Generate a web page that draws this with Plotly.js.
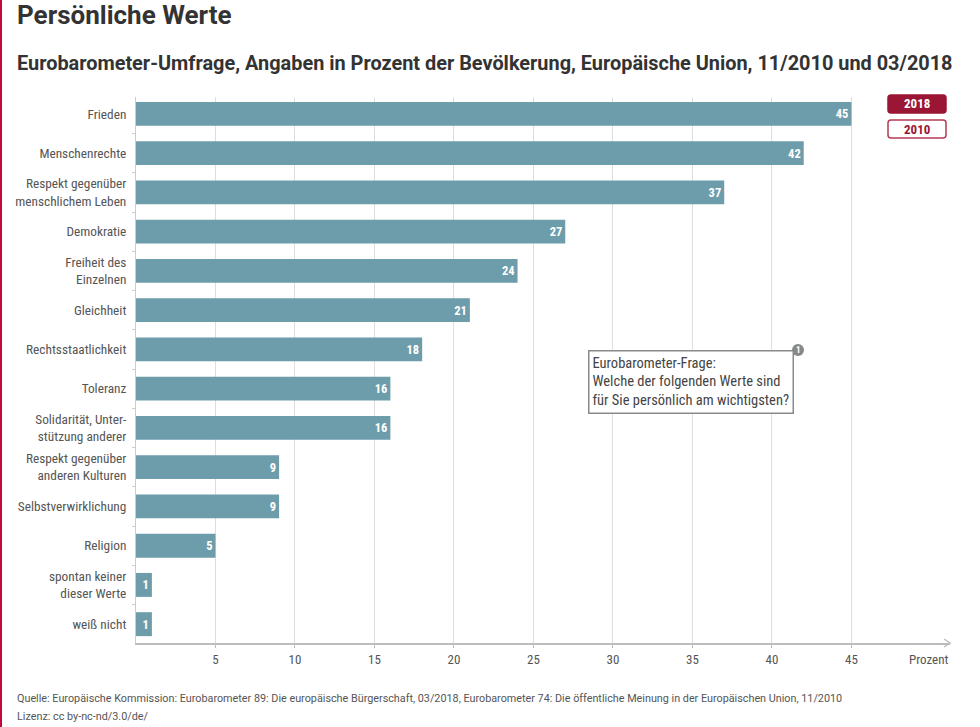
<!DOCTYPE html>
<html><head><meta charset="utf-8">
<script src="https://cdn.plot.ly/plotly-3.0.1.min.js"></script>
<style>body{margin:0;background:#fff}#c{width:980px;height:727px}#edge{position:absolute;left:0;top:0;width:2px;height:727px;background:#c4093f}</style>
</head><body><div id="c"></div><div id="edge"></div>
<script>
var categories = ["Frieden","Menschenrechte","Respekt gegenüber<br>menschlichem Leben","Demokratie","Freiheit des<br>Einzelnen","Gleichheit","Rechtsstaatlichkeit","Toleranz","Solidarität, Unter-<br>stützung anderer","Respekt gegenüber<br>anderen Kulturen","Selbstverwirklichung","Religion","spontan keiner<br>dieser Werte","weiß nicht"];
var values2018 = [45,42,37,27,24,21,18,16,16,9,9,5,1,1];
var xTicks = [5,10,15,20,25,30,35,40,45];

var F = "Roboto Condensed, Liberation Sans Narrow, Roboto, sans-serif";
function px(x){return (x-136)/814;}
function py(y){return (643-y)/546;}
function rrect(x0,y0,x1,y1,r){
  // pixel coords -> paper path with rounded corners
  function P(x,y){return px(x)+' '+py(y);}
  return 'M '+P(x0+r,y0)+' L '+P(x1-r,y0)+' Q '+P(x1,y0)+' '+P(x1,y0+r)+' L '+P(x1,y1-r)+' Q '+P(x1,y1)+' '+P(x1-r,y1)+
         ' L '+P(x0+r,y1)+' Q '+P(x0,y1)+' '+P(x0,y1-r)+' L '+P(x0,y0+r)+' Q '+P(x0,y0)+' '+P(x0+r,y0)+' Z';
}
var trace = {
  type:'bar', orientation:'h', y:categories, x:values2018,
  marker:{color:'#6d9dab'},
  text:values2018.map(String), textposition:'inside', insidetextanchor:'end',
  textfont:{family:F, size:12.5, color:'#ffffff', weight:'bold'},
  hoverinfo:'x+y', cliponaxis:false
};
var layout = {
  width:980, height:727,
  margin:{l:136, r:30, t:97, b:84},
  paper_bgcolor:'#fff', plot_bgcolor:'#fff',
  bargap:0.39, showlegend:false,
  font:{family:F, color:'#555', size:12},
  xaxis:{range:[0,51.2], tickvals:xTicks, ticktext:xTicks.map(String), showgrid:true, gridcolor:'#dedede', gridwidth:1,
         zeroline:false, showline:true, linecolor:'#bdbdbd', linewidth:2, ticks:'outside', ticklen:3, tickcolor:'#bdbdbd',
         tickfont:{family:F, size:13, color:'#555'}, fixedrange:true},
  yaxis:{categoryorder:'array', categoryarray:categories, range:[13.48,-0.43], showline:true, linecolor:'#cccccc', linewidth:1,
         ticks:'outside', ticklen:3, tickcolor:'#cccccc', tickson:'boundaries', showgrid:false, zeroline:false,
         tickfont:{family:F, size:13.3, color:'#555'}, ticklabelstandoff:6, fixedrange:true},
  shapes:[
    {type:'path', xref:'paper', yref:'paper', path:rrect(888,95,946,113,3), fillcolor:'#9b1535', line:{color:'#9b1535', width:1.5}},
    {type:'path', xref:'paper', yref:'paper', path:rrect(888,120,946,138,3), fillcolor:'#fff', line:{color:'#b23a55', width:1.5}},
    {type:'path', xref:'paper', yref:'paper', path:'M '+px(944)+' '+py(639)+' L '+px(950)+' '+py(643)+' L '+px(944)+' '+py(647), line:{color:'#bdbdbd', width:1.5}},
    {type:'circle', xref:'paper', yref:'paper', x0:px(792), x1:px(804), y0:py(356), y1:py(344), fillcolor:'#888', line:{width:0}}
  ],
  annotations:[
    {xref:'paper', yref:'paper', x:px(917), y:py(104), xanchor:'center', yanchor:'middle', text:'<b>2018</b>', showarrow:false, font:{family:F, size:13, color:'#fff'}},
    {xref:'paper', yref:'paper', x:px(917), y:py(129), xanchor:'center', yanchor:'middle', text:'<b>2010</b>', showarrow:false, font:{family:F, size:13, color:'#9b1535'}},
    {xref:'paper', yref:'paper', x:px(588), y:py(350), xanchor:'left', yanchor:'top', align:'left', showarrow:false,
     text:'Eurobarometer-Frage:<br>Welche der folgenden Werte sind<br>für Sie persönlich am wichtigsten?',
     font:{family:F, size:14.5, color:'#444'}, bordercolor:'#8a8a8a', borderwidth:1.5, borderpad:3, bgcolor:'#fff'},
    {xref:'paper', yref:'paper', x:px(798), y:py(350), xanchor:'center', yanchor:'middle', text:'<b>1</b>', showarrow:false, font:{family:F, size:9, color:'#fff'}},
    {xref:'paper', yref:'paper', x:px(950), y:py(659), xanchor:'right', yanchor:'middle', text:'Prozent', showarrow:false, font:{family:F, size:13, color:'#555'}},
    {xref:'paper', yref:'paper', x:px(15), y:py(15), xanchor:'left', yanchor:'middle', text:'<b>Persönliche Werte</b>', showarrow:false, font:{family:'Roboto, sans-serif', size:26, color:'#333'}},
    {xref:'paper', yref:'paper', x:px(15), y:py(64), xanchor:'left', yanchor:'middle', text:'<b>Eurobarometer-Umfrage, Angaben in Prozent der Bevölkerung, Europäische Union, 11/2010 und 03/2018</b>', showarrow:false, font:{family:'Roboto, sans-serif', size:19.9, color:'#333'}},
    {xref:'paper', yref:'paper', x:px(15), y:py(698), xanchor:'left', yanchor:'middle', text:'Quelle: Europäische Kommission: Eurobarometer 89: Die europäische Bürgerschaft, 03/2018, Eurobarometer 74: Die öffentliche Meinung in der Europäischen Union, 11/2010', showarrow:false, font:{family:'Roboto, sans-serif', size:10.8, color:'#555'}},
    {xref:'paper', yref:'paper', x:px(15), y:py(716), xanchor:'left', yanchor:'middle', text:'Lizenz: cc by-nc-nd/3.0/de/', showarrow:false, font:{family:'Roboto, sans-serif', size:10.8, color:'#555'}}
  ]
};
Plotly.newPlot('c',[trace],layout,{displayModeBar:false, staticPlot:true});
</script></body></html>
